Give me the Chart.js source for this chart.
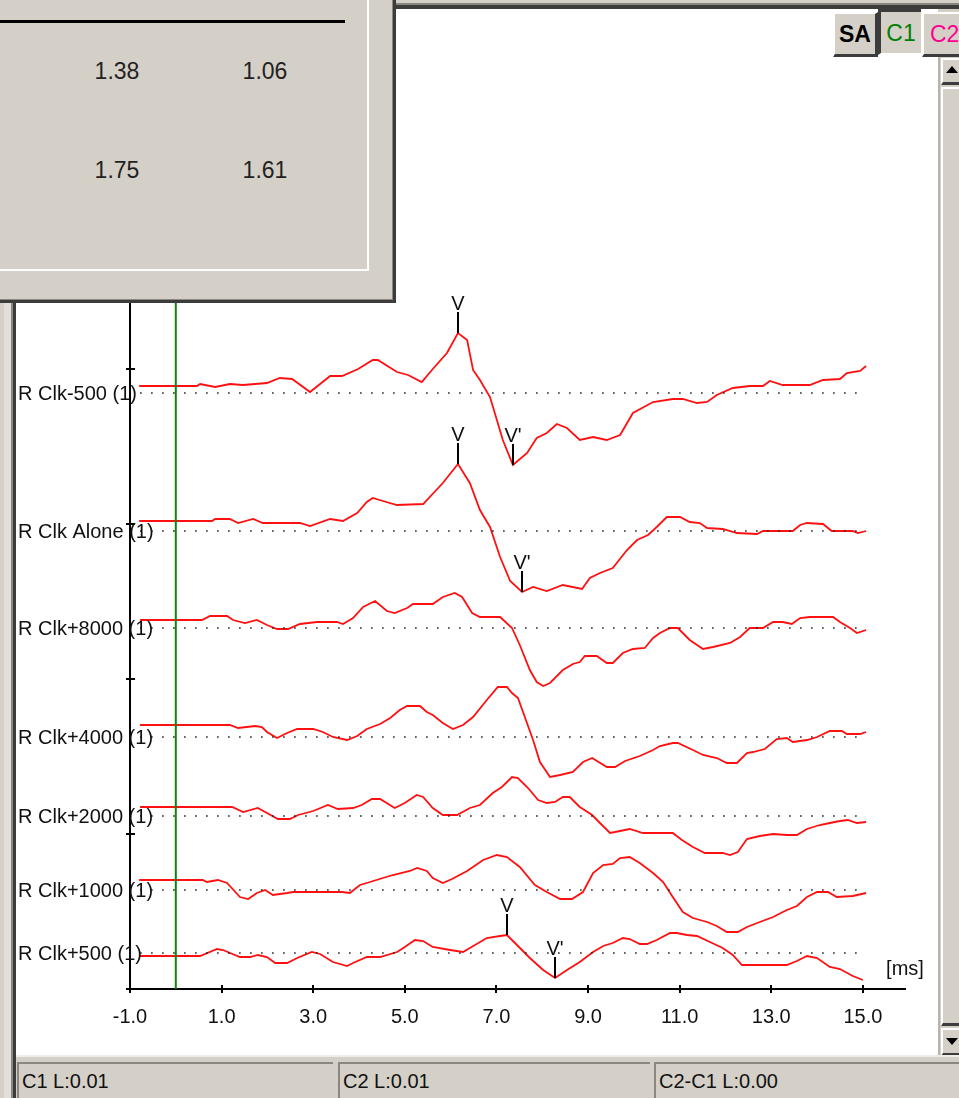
<!DOCTYPE html>
<html>
<head>
<meta charset="utf-8">
<script src="https://cdn.jsdelivr.net/npm/chart.js@4.4.1/dist/chart.umd.min.js"></script>
<style>
  body { margin: 0; }
  #win { position: relative; width: 959px; height: 1098px; overflow: hidden; background: #d4d0c8;
         font-family: "Liberation Sans", Arial, sans-serif; color: #111; }
  .abs { position: absolute; }
  #plot { left: 16px; top: 9px; width: 922px; height: 1046px; background: #fff; }
  .num { width: 90px; text-align: center; font-size: 23px; line-height: 30px; color: #222; }
  .btn { background: #d4d0c8; box-sizing: border-box; text-align: center; font-size: 23px; line-height: 40px; }
  .cell { top: 1062px; height: 36px; box-sizing: border-box; border-top: 2px solid #8a8780; border-left: 2px solid #8a8780;
          font-size: 20px; line-height: 34px; padding-left: 3px; color: #111; }
</style>
</head>
<body>
<div id="win">
  <div class="abs" style="left:395px; top:3px; width:564px; height:6px; background:linear-gradient(#8a8780 0 2px, #3c3c3c 2px 6px);"></div>
  <div class="abs" style="left:4px; top:290px; width:7px; height:808px; background:#e2dfd9;"></div>
  <div class="abs" style="left:11px; top:290px; width:5px; height:808px; background:linear-gradient(to right, #8a8780 0 2px, #3c3c3c 2px 5px);"></div>

  <div id="plot" class="abs"><canvas id="abr" width="922" height="1046"></canvas></div>

  <!-- overlapping result panel -->
  <div class="abs" style="left:0; top:0; width:396px; height:303px; background:linear-gradient(to right, transparent 0 392px, #8a8780 392px 393px, #3c3c3c 393px);"></div>
  <div class="abs" style="left:0; top:0; width:393px; height:303px; background:linear-gradient(transparent 0 299px, #8a8780 299px 300px, #3c3c3c 300px);"></div>
  <div class="abs" style="left:0; top:0; width:392px; height:299px; background:#d4d0c8;"></div>
  <div class="abs" style="left:367px; top:0; width:2px; height:271px; background:#fff;"></div>
  <div class="abs" style="left:0; top:269px; width:369px; height:2px; background:#fff;"></div>
  <div class="abs" style="left:0; top:20px; width:345px; height:3px; background:#000;"></div>
  <div id="tbl"></div>

  <!-- channel buttons -->
  <div class="abs btn" style="left:833px; top:12px; width:45px; height:45px; border-top:2px solid #fff; border-left:2px solid #fff; border-right:3px solid #3c3c3c; border-bottom:3px solid #3c3c3c; font-weight:bold; color:#000;">SA</div>
  <div class="abs btn" style="left:878px; top:9px; width:43px; height:46px; border-top:3px solid #3c3c3c; border-left:3px solid #3c3c3c; border-bottom:2px solid #fff; color:#008000; line-height:42px;">C1</div>
  <div class="abs btn" style="left:922px; top:12px; width:50px; height:45px; border-top:2px solid #fff; border-left:2px solid #fff; border-bottom:3px solid #3c3c3c; color:#ff0090; text-align:left; padding-left:6px;">C2</div>

  <!-- scrollbar -->
  <div class="abs" style="left:938px; top:57px; width:21px; height:998px; background:#d4d0c8; border-left:2px solid #b8b4ac; box-sizing:border-box;"></div>
  <div class="abs" style="left:941px; top:58px; width:18px; height:27px; box-sizing:border-box; border-top:2px solid #fff; border-left:2px solid #fff; border-bottom:3px solid #3c3c3c;"></div>
  <div class="abs" style="left:946px; top:66px; width:0; height:0; border-left:6px solid transparent; border-right:6px solid transparent; border-bottom:7px solid #000;"></div>
  <div class="abs" style="left:941px; top:87px; width:18px; height:939px; box-sizing:border-box; border-top:2px solid #fff; border-left:2px solid #fff; border-bottom:3px solid #3c3c3c;"></div>
  <div class="abs" style="left:941px; top:1028px; width:18px; height:28px; box-sizing:border-box; border-top:2px solid #fff; border-left:2px solid #fff; border-bottom:3px solid #3c3c3c;"></div>
  <div class="abs" style="left:946px; top:1038px; width:0; height:0; border-left:6px solid transparent; border-right:6px solid transparent; border-top:7px solid #000;"></div>

  <!-- status bar -->
  <div class="abs" style="left:16px; top:1055px; width:943px; height:2px; background:#efede8;"></div>
  <div id="status"></div>
</div>

<script>
// trace names and baseline level of each trace (y units, 0 = time axis)
const traceLabels = ['R Clk-500 (1)', 'R Clk Alone (1)', 'R Clk+8000 (1)', 'R Clk+4000 (1)', 'R Clk+2000 (1)', 'R Clk+1000 (1)', 'R Clk+500 (1)'];
const baselines = [59.6, 45.8, 36.1, 25.2, 17.3, 9.9, 3.6];

// [time ms, deflection from baseline]
const clkMinus500 = [[-0.80,0.7],[0.46,0.7],[0.53,0.9],[0.86,0.6],[1.18,0.9],[1.47,0.8],[1.99,1.0],[2.27,1.5],[2.54,1.4],[2.93,0.1],[3.37,1.7],[3.63,1.7],[3.98,2.4],[4.30,3.3],[4.41,3.3],[4.83,2.1],[5.07,1.8],[5.37,1.1],[5.61,2.4],[5.92,4.0],[6.16,6.0],[6.36,5.3],[6.49,2.3],[6.64,1.3],[6.86,-0.4],[7.14,-4.7],[7.36,-7.2],[7.67,-6.0],[7.88,-4.5],[8.10,-4.0],[8.32,-3.1],[8.54,-3.5],[8.82,-4.7],[9.11,-4.4],[9.41,-4.7],[9.70,-4.2],[9.98,-2.0],[10.42,-0.9],[10.85,-0.6],[11.07,-0.6],[11.38,-1.0],[11.60,-0.9],[11.81,-0.2],[12.16,0.5],[12.53,0.7],[12.82,0.7],[12.97,1.2],[13.25,0.8],[13.84,0.8],[14.13,1.3],[14.50,1.4],[14.65,2.0],[14.94,2.2],[15.07,2.7]];
const clkAlone = [[-0.80,1.0],[0.79,1.0],[0.86,1.2],[1.18,1.2],[1.36,0.8],[1.69,1.2],[1.90,0.8],[2.71,0.8],[2.93,0.5],[3.37,1.2],[3.65,1.0],[3.96,1.8],[4.17,2.9],[4.30,3.3],[4.52,3.0],[4.83,2.6],[5.40,2.7],[5.83,4.8],[6.16,6.7],[6.42,4.8],[6.64,2.1],[6.86,0.4],[7.08,-2.6],[7.30,-5.0],[7.56,-6.1],[7.80,-5.6],[8.10,-6.0],[8.45,-5.4],[8.87,-5.8],[9.04,-4.7],[9.26,-4.2],[9.54,-3.7],[9.85,-1.9],[10.07,-0.9],[10.31,-0.4],[10.50,0.4],[10.72,1.4],[11.01,1.4],[11.22,0.9],[11.44,0.8],[11.60,0.3],[11.94,0.2],[12.25,-0.2],[12.69,-0.3],[12.82,0.0],[13.47,0.0],[13.63,0.6],[13.78,0.8],[14.13,0.7],[14.32,0.0],[14.78,0.0],[14.89,-0.2],[15.07,0.0]];
const clkPlus8000 = [[-0.78,0.8],[0.57,0.8],[0.75,1.2],[1.12,1.2],[1.25,0.8],[1.51,0.5],[1.77,0.8],[1.99,0.3],[2.21,-0.1],[2.45,-0.1],[2.71,0.4],[3.08,0.6],[3.52,0.6],[3.65,0.4],[3.87,1.0],[4.09,2.1],[4.35,2.7],[4.61,1.7],[4.78,1.5],[5.05,2.0],[5.18,2.4],[5.61,2.4],[5.83,3.1],[6.09,3.5],[6.25,3.1],[6.47,1.5],[6.64,1.1],[7.08,1.1],[7.34,0.0],[7.51,-1.7],[7.73,-4.2],[7.88,-5.4],[8.02,-5.8],[8.17,-5.5],[8.45,-4.2],[8.67,-3.6],[8.82,-3.4],[8.93,-2.8],[9.19,-2.8],[9.41,-3.5],[9.54,-3.5],[9.76,-2.5],[9.98,-2.1],[10.24,-2.0],[10.42,-1.0],[10.57,-0.5],[10.79,0.0],[10.96,0.0],[11.22,-1.2],[11.51,-2.1],[11.73,-1.9],[12.10,-1.5],[12.32,-0.9],[12.53,0.0],[12.82,0.0],[13.04,0.6],[13.25,0.6],[13.45,0.4],[13.63,1.0],[13.84,1.1],[14.35,1.1],[14.50,0.6],[14.72,0.0],[14.87,-0.5],[15.07,-0.2]];
const clkPlus4000 = [[-0.78,1.2],[1.18,1.2],[1.36,0.9],[1.73,1.1],[1.88,1.0],[1.99,0.5],[2.21,-0.1],[2.43,0.4],[2.65,0.8],[3.00,0.8],[3.21,0.5],[3.43,0.0],[3.74,-0.3],[3.96,0.1],[4.17,0.8],[4.46,1.3],[4.68,1.9],[4.89,2.7],[5.05,3.1],[5.33,3.1],[5.48,2.5],[5.61,2.2],[5.83,1.4],[6.05,0.8],[6.27,1.2],[6.49,2.0],[6.79,3.7],[7.03,5.0],[7.23,5.0],[7.34,4.4],[7.47,3.9],[7.62,2.0],[7.80,-0.3],[7.95,-2.5],[8.17,-4.0],[8.39,-3.8],[8.67,-3.5],[8.89,-2.5],[9.09,-2.1],[9.41,-3.0],[9.59,-3.0],[9.81,-2.4],[10.13,-1.9],[10.42,-1.3],[10.57,-0.9],[10.85,-0.6],[10.96,-0.6],[11.29,-1.3],[11.51,-1.8],[11.81,-2.1],[12.03,-2.6],[12.25,-2.6],[12.47,-1.6],[12.60,-1.5],[12.86,-1.2],[13.12,-0.2],[13.34,-0.1],[13.47,-0.5],[13.78,-0.3],[14.00,0.0],[14.28,0.6],[14.54,0.6],[14.65,0.3],[14.94,0.3],[15.07,0.5]];
const clkPlus2000 = [[-0.78,0.9],[1.23,0.9],[1.47,0.4],[1.79,0.8],[1.99,0.3],[2.23,-0.3],[2.49,-0.3],[2.67,0.1],[3.00,0.5],[3.32,1.1],[3.54,0.7],[3.87,0.8],[4.06,1.1],[4.28,1.7],[4.46,1.7],[4.78,0.8],[5.00,1.3],[5.26,2.1],[5.40,1.9],[5.61,0.8],[5.83,0.1],[6.14,0.1],[6.42,0.8],[6.64,1.1],[6.92,2.3],[7.12,2.9],[7.34,3.9],[7.47,3.8],[7.69,2.8],[7.91,1.6],[8.10,1.3],[8.28,1.4],[8.45,1.9],[8.60,1.9],[8.82,0.9],[9.09,0.1],[9.26,-0.7],[9.48,-1.7],[9.70,-1.5],[9.91,-1.3],[10.20,-1.7],[10.85,-1.7],[11.05,-2.4],[11.29,-3.1],[11.55,-3.7],[11.94,-3.7],[12.10,-3.9],[12.27,-3.6],[12.47,-2.3],[12.75,-2.0],[13.04,-1.8],[13.34,-1.9],[13.56,-1.9],[13.78,-1.3],[14.06,-0.9],[14.28,-0.7],[14.50,-0.5],[14.67,-0.4],[14.87,-0.7],[15.07,-0.6]];
const clkPlus1000 = [[-0.80,1.0],[0.59,1.0],[0.68,0.8],[0.92,1.0],[1.12,0.7],[1.40,-0.7],[1.58,-0.9],[1.77,-0.3],[1.95,0.0],[2.12,-0.5],[2.43,-0.3],[2.56,-0.2],[3.63,-0.2],[3.80,-0.3],[4.02,0.5],[4.24,0.8],[4.52,1.2],[4.74,1.5],[5.11,1.9],[5.27,2.2],[5.48,1.9],[5.61,1.2],[5.83,0.7],[6.03,1.1],[6.36,1.9],[6.71,3.0],[7.01,3.5],[7.23,3.3],[7.51,2.3],[7.84,0.5],[8.10,-0.2],[8.39,-0.9],[8.65,-0.9],[8.89,-0.2],[9.11,1.7],[9.33,2.5],[9.54,2.6],[9.70,3.2],[9.91,3.3],[10.13,2.7],[10.42,1.7],[10.64,0.8],[10.85,-0.7],[11.07,-2.2],[11.29,-2.8],[11.60,-3.2],[11.81,-3.6],[12.03,-4.2],[12.27,-4.2],[12.47,-3.7],[12.75,-3.2],[13.04,-2.7],[13.34,-2.0],[13.56,-1.6],[13.78,-0.7],[14.00,-0.2],[14.24,-0.2],[14.43,-0.7],[14.78,-0.6],[15.07,-0.3]];
const clkPlus500 = [[-0.80,-0.3],[0.53,-0.3],[0.90,0.4],[1.03,0.3],[1.40,-0.4],[1.62,-0.4],[1.79,-0.2],[1.99,-0.4],[2.17,-1.0],[2.43,-1.0],[2.65,-0.5],[2.97,0.1],[3.15,-0.1],[3.43,-0.9],[3.74,-1.3],[3.87,-1.0],[4.17,-0.4],[4.46,-0.4],[4.83,0.1],[5.00,0.6],[5.22,1.3],[5.40,1.2],[5.61,0.6],[5.99,0.3],[6.27,0.1],[6.42,0.5],[6.79,1.5],[7.08,1.7],[7.23,1.8],[7.47,0.7],[7.73,-0.5],[8.02,-1.7],[8.28,-2.5],[8.54,-1.7],[8.82,-0.9],[9.11,0.1],[9.33,0.7],[9.54,1.0],[9.76,1.5],[9.91,1.4],[10.13,0.9],[10.29,0.9],[10.50,1.3],[10.79,2.0],[10.94,2.0],[11.16,1.8],[11.38,1.7],[11.66,1.1],[11.94,0.5],[12.16,-0.2],[12.36,-1.2],[13.34,-1.2],[13.56,-0.8],[13.78,-0.3],[14.00,-0.5],[14.28,-1.4],[14.50,-1.6],[14.78,-2.3],[15.00,-2.7]];
const traces = [clkMinus500, clkAlone, clkPlus8000, clkPlus4000, clkPlus2000, clkPlus1000, clkPlus500];

// wave V / V' picks: trace index, latency, label
const markerTrace = [0, 0, 1, 1, 6, 6];
const markerTime = [6.16, 7.36, 6.16, 7.56, 7.23, 8.28];
const markerText = ['V', "V'", 'V', "V'", 'V', "V'"];

const xTicks = [-1, 1, 3, 5, 7, 9, 11, 13, 15];
const yTicks = [0, 15.5, 31, 46.5, 62, 77.5, 93];
const baselineSpan = [-0.78, 15.0];
const stimulusTime = 0;

const tableRows = [['1.38', '1.06'], ['1.75', '1.61']];
const statusTexts = ['C1 L:0.01', 'C2 L:0.01', 'C2-C1 L:0.00'];

const FONT = '"Liberation Sans", Arial, sans-serif';

document.addEventListener('DOMContentLoaded', () => {
    // panel table
    const tbl = document.getElementById('tbl');
    const colX = [72, 220];
    const rowY = [56, 155];
    tableRows.forEach((row, r) => {
        row.forEach((txt, c) => {
            const d = document.createElement('div');
            d.className = 'abs num';
            d.style.left = colX[c] + 'px';
            d.style.top = rowY[r] + 'px';
            d.textContent = txt;
            tbl.appendChild(d);
        });
    });

    // status bar cells
    const status = document.getElementById('status');
    const cellX = [17, 338, 654];
    const cellW = [316, 312, 310];
    statusTexts.forEach((txt, i) => {
        const d = document.createElement('div');
        d.className = 'abs cell';
        d.style.left = cellX[i] + 'px';
        d.style.width = cellW[i] + 'px';
        d.textContent = txt;
        status.appendChild(d);
    });

    const datasets = [];
    baselines.forEach(b => {
        datasets.push({
            data: [{ x: baselineSpan[0], y: b }, { x: baselineSpan[1], y: b }],
            borderColor: '#222', borderWidth: 1.6, borderDash: [1.6, 9.4], pointRadius: 0
        });
    });
    datasets.push({
        data: [{ x: stimulusTime, y: 0 }, { x: stimulusTime, y: 98 }],
        borderColor: '#0b850b', borderWidth: 2, pointRadius: 0
    });
    traces.forEach((tr, i) => {
        datasets.push({
            data: tr.map(p => ({ x: p[0], y: baselines[i] + p[1] })),
            borderColor: '#ff1010', borderWidth: 1.8, pointRadius: 0, tension: 0
        });
    });

    const extras = {
        id: 'extras',
        afterDraw(chart) {
            const { ctx, chartArea, scales: { x, y } } = chart;
            ctx.save();
            ctx.strokeStyle = '#000';
            ctx.lineWidth = 2;
            // ticks crossing the axes
            x.ticks.forEach(t => {
                const px = Math.round(x.getPixelForValue(t.value));
                ctx.beginPath(); ctx.moveTo(px, chartArea.bottom - 4); ctx.lineTo(px, chartArea.bottom + 4); ctx.stroke();
            });
            y.ticks.forEach(t => {
                const py = Math.round(y.getPixelForValue(t.value));
                ctx.beginPath(); ctx.moveTo(chartArea.left - 4, py); ctx.lineTo(chartArea.left + 5, py); ctx.stroke();
            });
            // trace names
            ctx.font = '20px ' + FONT;
            ctx.fillStyle = '#111';
            ctx.textBaseline = 'middle';
            ctx.textAlign = 'left';
            traceLabels.forEach((lab, i) => ctx.fillText(lab, 2, y.getPixelForValue(baselines[i]) + 1));
            // peak picks
            ctx.textAlign = 'center';
            ctx.textBaseline = 'alphabetic';
            markerTime.forEach((t, k) => {
                const i = markerTrace[k];
                const pt = traces[i].find(p => p[0] === t);
                const px = Math.round(x.getPixelForValue(t));
                const py = y.getPixelForValue(baselines[i] + pt[1]);
                ctx.beginPath(); ctx.moveTo(px, py); ctx.lineTo(px, py - 21); ctx.stroke();
                ctx.fillText(markerText[k], px, py - 23);
            });
            // unit
            ctx.fillText('[ms]', chartArea.right, chartArea.bottom - 14);
            ctx.restore();
        }
    };

    new Chart(document.getElementById('abr'), {
        type: 'line',
        data: { datasets },
        options: {
            responsive: false,
            animation: false,
            layout: { padding: { left: 114, right: 33, top: 0, bottom: 26 } },
            plugins: { legend: { display: false }, tooltip: { enabled: false } },
            scales: {
                x: {
                    type: 'linear', min: -1, max: 15.92,
                    afterBuildTicks: s => { s.ticks = xTicks.map(v => ({ value: v })); },
                    afterFit: s => { s.height = 40; },
                    ticks: { font: { family: FONT, size: 20 }, color: '#111', padding: 16, maxRotation: 0, autoSkip: false,
                             callback: v => v.toFixed(1) },
                    grid: { drawOnChartArea: false, drawTicks: false },
                    border: { color: '#000', width: 2 }
                },
                y: {
                    type: 'linear', min: 0, max: 98,
                    afterBuildTicks: s => { s.ticks = yTicks.map(v => ({ value: v })); },
                    afterFit: s => { s.width = 0; },
                    ticks: { display: false },
                    grid: { drawOnChartArea: false, drawTicks: false },
                    border: { color: '#000', width: 2 }
                }
            }
        },
        plugins: [extras]
    });
});
</script>
</body>
</html>
